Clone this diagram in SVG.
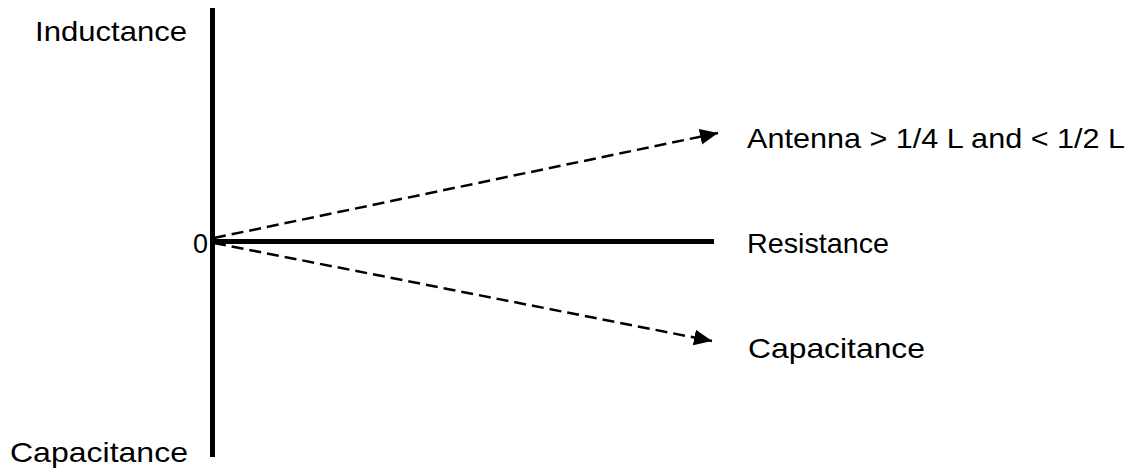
<svg xmlns="http://www.w3.org/2000/svg" width="1136" height="469" viewBox="0 0 1136 469">
<style>
.lbl{font-family:"Liberation Sans",Arial,sans-serif;font-size:28px;fill:#000}
.axis{stroke:#000;stroke-width:5;fill:none}
.dash{stroke:#000;stroke-width:2.5;fill:none;stroke-dasharray:12,6}
</style>
<defs>
<marker id="ah" markerUnits="userSpaceOnUse" markerWidth="20" markerHeight="18" refX="18" refY="8" orient="auto">
<path d="M0,0 L18,8 L0,16 Z" fill="#000"/>
</marker>
</defs>
<g id="connectors">
<line class="axis" x1="212.5" y1="8" x2="212.5" y2="457"/>
<line class="axis" x1="212" y1="241.5" x2="714" y2="241.5"/>
<line class="dash" x1="214" y1="238" x2="718" y2="133" marker-end="url(#ah)"/>
<line class="dash" x1="214" y1="243" x2="712" y2="341" marker-end="url(#ah)"/>
</g>
<g id="label-inductance"><text class="lbl" x="35" y="41" textLength="152" lengthAdjust="spacingAndGlyphs">Inductance</text></g>
<g id="label-capacitance-axis"><text class="lbl" x="10" y="462" textLength="178" lengthAdjust="spacingAndGlyphs">Capacitance</text></g>
<g id="label-zero"><text class="lbl" x="193" y="253" textLength="15" lengthAdjust="spacingAndGlyphs">0</text></g>
<g id="label-antenna"><text class="lbl" x="747" y="148" textLength="378" lengthAdjust="spacingAndGlyphs">Antenna &gt; 1/4 L and &lt; 1/2 L</text></g>
<g id="label-resistance"><text class="lbl" x="747" y="253" textLength="142" lengthAdjust="spacingAndGlyphs">Resistance</text></g>
<g id="label-capacitance"><text class="lbl" x="748" y="358" textLength="177" lengthAdjust="spacingAndGlyphs">Capacitance</text></g>
</svg>
